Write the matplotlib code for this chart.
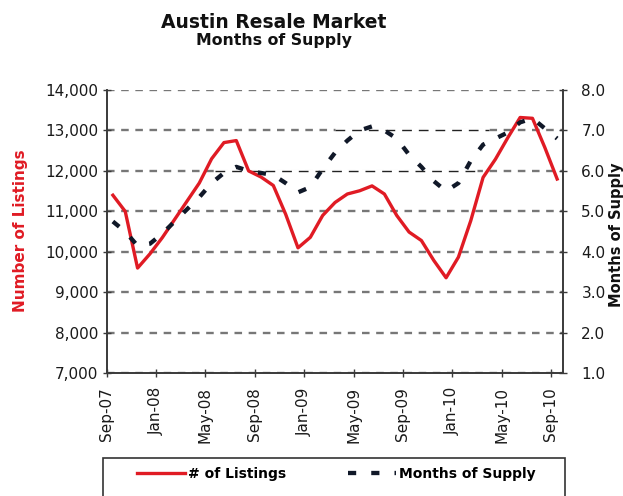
import matplotlib
matplotlib.use("Agg")
import matplotlib.pyplot as plt
from matplotlib.patches import Rectangle
from matplotlib.ticker import FuncFormatter

# monthly data, Sep-07 .. Sep-10
tick_labels = ['Sep-07', 'Jan-08', 'May-08', 'Sep-08', 'Jan-09',
               'May-09', 'Sep-09', 'Jan-10', 'May-10', 'Sep-10']
listings = [11400, 11000, 9600, 9950, 10350, 10800, 11250, 11700, 12300,
            12700, 12750, 12000, 11850, 11640, 10930, 10100, 10360, 10900,
            11220, 11430, 11510, 11630, 11430, 10900, 10490, 10280, 9790,
            9360, 9870, 10770, 11840, 12290, 12820, 13320, 13300, 12580, 11800]
supply = [4.75, 4.5, 4.15, 4.2, 4.45, 4.75, 5.05, 5.35, 5.7, 5.95, 6.1,
          6.0, 5.95, 5.9, 5.7, 5.47, 5.6, 6.05, 6.45, 6.75, 7.0, 7.1, 7.0,
          6.8, 6.4, 6.1, 5.75, 5.5, 5.7, 6.25, 6.65, 6.8, 6.95, 7.2, 7.3,
          7.05, 6.8]
months = list(range(len(listings)))

# stretches of gridline drawn thin and black instead of grey
thin_grid = [(12000, 8.3, 29.5), (13000, 18.0, 30.5)]

red = '#e01b24'
dark = '#3a3a3a'

plt.rcParams['font.family'] = 'DejaVu Sans'

fig = plt.figure(figsize=(6.23, 4.96), dpi=100)
ax = fig.add_axes([0.1713, 0.2474, 0.7329, 0.5712])

ax.set_xlim(-0.5, 36.5)
ax.set_ylim(7000, 14000)
ax.set_yticks(range(7000, 14001, 1000))
ax.yaxis.set_major_formatter(FuncFormatter(lambda v, p: f'{int(v):,}'))
ax.set_xticks([i - 0.5 for i in range(0, 37, 4)])
ax.set_xticklabels(tick_labels, rotation=90)

ax.set_axisbelow(True)
ax.grid(axis='y', color='#777777', lw=1.7, linestyle=(0, (3.2, 2.8)))
ax.grid(axis='x', visible=False)
for y, x0, x1 in thin_grid:
    ax.hlines(y, x0, x1, color='white', lw=3.5, zorder=1.2)
    ax.hlines(y, x0, x1, color='#222222', lw=1.0, linestyles=[(0, (7, 5))], zorder=1.3)

l1, = ax.plot(months, listings, color=red, lw=2.4, zorder=3, label='# of Listings')

ax2 = ax.twinx()
ax2.set_ylim(1.0, 8.0)
ax2.set_yticks([1, 2, 3, 4, 5, 6, 7, 8])
ax2.yaxis.set_major_formatter(FuncFormatter(lambda v, p: f'{v:.1f}'))
l2, = ax2.plot(months, supply, color='#101828', lw=3.1, linestyle=(0, (1.9, 3.5)),
               label='Months of Supply')

for a in (ax, ax2):
    a.spines['top'].set_visible(False)
    for s in ('left', 'right', 'bottom'):
        a.spines[s].set_color(dark)
        a.spines[s].set_linewidth(1.2)
    a.tick_params(direction='inout', length=6, width=1, color=dark,
                  labelsize=11, labelcolor='#1a1a1a')
ax.tick_params(axis='y', pad=3)
ax.tick_params(axis='x', pad=7)
ax2.tick_params(axis='y', pad=10)

fig.text(274 / 623, 1 - 28 / 496, 'Austin Resale Market', ha='center', va='baseline',
         fontsize=13.5, fontweight='bold', color='#111111')
fig.text(274 / 623, 1 - 44.5 / 496, 'Months of Supply', ha='center', va='baseline',
         fontsize=11.3, fontweight='bold', color='#111111')
fig.text(21 / 623, 1 - 231 / 496, 'Number of Listings', rotation=90, ha='center',
         va='center', fontsize=11, fontweight='bold', color=red)
fig.text(616 / 623, 1 - 235 / 496, 'Months of Supply', rotation=90, ha='center',
         va='center', fontsize=10.5, fontweight='bold', color='#111111')

# legend box runs off the bottom edge
fig.add_artist(Rectangle((103 / 623, -0.05), 462 / 623, (496 - 458) / 496 + 0.05,
                         transform=fig.transFigure, fill=False, edgecolor='#333333', lw=1.2))
fig.legend(handles=[l1, l2], loc='center left', bbox_to_anchor=(137 / 623, 1 - 474 / 496),
           ncol=2, frameon=False, borderpad=0, borderaxespad=0, handlelength=3.45,
           handletextpad=0.2, columnspacing=4.5, prop={'weight': 'bold', 'size': 10})

fig.savefig('out.png', dpi=100)
